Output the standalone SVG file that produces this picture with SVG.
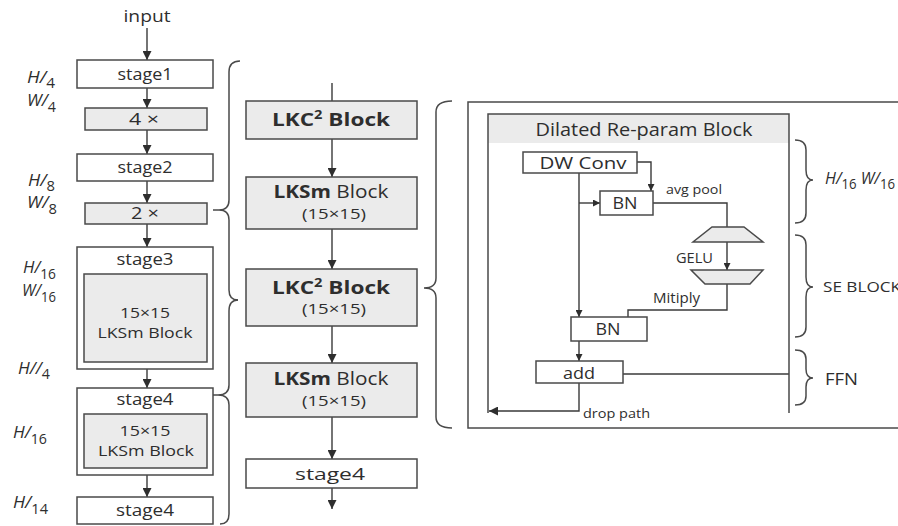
<svg xmlns="http://www.w3.org/2000/svg" width="898" height="526" viewBox="0 0 898 526">
  <style>
    text { font-family: "Open Sans", "DejaVu Sans", sans-serif; fill: #2e2e2e; }
    .box { fill: #ffffff; stroke: #4a4a4a; stroke-width: 1.5; }
    .gbox { fill: #ebebeb; stroke: #4a4a4a; stroke-width: 1.5; }
    .ln { fill: none; stroke: #3a3a3a; stroke-width: 1.4; }
    .br { fill: none; stroke: #4a4a4a; stroke-width: 1.5; }
    .c { text-anchor: middle; }
    .t16 { font-size: 16px; }
    .t15 { font-size: 15px; }
    .t14 { font-size: 14px; }
    .t13 { font-size: 13px; }
    .blk { font-size: 18.5px; font-weight: 700; }
    .frac { font-size: 17px; font-style: italic; }
    .sub { font-size: 14px; font-style: normal; }
  </style>
  <defs>
    <marker id="ah" viewBox="0 0 10 10" refX="10" refY="5" markerWidth="7" markerHeight="7" markerUnits="userSpaceOnUse" orient="auto">
      <path d="M0,0 L10,5 L0,10 z" fill="#2e2e2e"/>
    </marker>
    <marker id="ahs" viewBox="0 0 10 10" refX="10" refY="5" markerWidth="9" markerHeight="9" markerUnits="userSpaceOnUse" orient="auto">
      <path d="M0,0 L10,5 L0,10 z" fill="#2e2e2e"/>
    </marker>
  </defs>
  <rect width="898" height="526" fill="#ffffff"/>

  <!-- connectors -->
  <g id="connectors">
    <!-- left column -->
    <line class="ln" x1="147" y1="28" x2="147" y2="60" marker-end="url(#ahs)"/>
    <line class="ln" x1="147" y1="88" x2="147" y2="108" marker-end="url(#ahs)"/>
    <line class="ln" x1="147" y1="130" x2="147" y2="154" marker-end="url(#ahs)"/>
    <line class="ln" x1="147" y1="181" x2="147" y2="203" marker-end="url(#ahs)"/>
    <line class="ln" x1="147" y1="224" x2="147" y2="247" marker-end="url(#ahs)"/>
    <line class="ln" x1="147" y1="369" x2="147" y2="388" marker-end="url(#ahs)"/>
    <line class="ln" x1="147" y1="475" x2="147" y2="497" marker-end="url(#ahs)"/>
    <!-- middle column -->
    <line class="ln" x1="332" y1="83" x2="332" y2="101"/>
    <line class="ln" x1="332" y1="139" x2="332" y2="177" marker-end="url(#ahs)"/>
    <line class="ln" x1="332" y1="229" x2="332" y2="269" marker-end="url(#ahs)"/>
    <line class="ln" x1="332" y1="326" x2="332" y2="363" marker-end="url(#ahs)"/>
    <line class="ln" x1="332" y1="417" x2="332" y2="459" marker-end="url(#ahs)"/>
    <line class="ln" x1="332" y1="488" x2="332" y2="509" marker-end="url(#ahs)"/>
    <!-- dilated re-param block internals -->
    <polyline class="ln" points="637,162 651,162 651,191" marker-end="url(#ah)"/>
    <line class="ln" x1="579" y1="173" x2="579" y2="317" marker-end="url(#ah)"/>
    <line class="ln" x1="579" y1="203" x2="600" y2="203" marker-end="url(#ah)"/>
    <polyline class="ln" points="653,203 727,203 727,227"/>
    <line class="ln" x1="727" y1="242" x2="727" y2="270" marker-end="url(#ah)"/>
    <polyline class="ln" points="727,284 727,310 628,310 628,317"/>
    <line class="ln" x1="579" y1="341" x2="579" y2="361" marker-end="url(#ah)"/>
    <line class="ln" x1="623" y1="374" x2="789" y2="374"/>
    <polyline class="ln" points="579,383 579,411 489,411" marker-end="url(#ahs)"/>
  </g>

  <!-- braces -->
  <g id="braces">
    <path class="br" d="M240,61 Q229,61 229,72 L229,200 Q229,210 219,210 L213,210 M219,210 Q229,210 229,220 L229,290 Q229,300 238,300"/>
    <path class="br" d="M238,300 Q229,300 229,311 L229,385 Q229,395 218,395 L213,395 M218,395 Q229,395 229,405 L229,514 Q229,524 220,524"/>
    <path class="br" d="M452,101 Q436,101 436,112 L436,278 Q436,288 424,288 Q436,288 436,298 L436,417 Q436,428 452,428"/>
    <path class="br" d="M795,140 Q806,140 806,150 L806,170 Q806,180 813,180 Q806,180 806,190 L806,213 Q806,223 795,223"/>
    <path class="br" d="M795,235 Q806,235 806,245 L806,277 Q806,287 813,287 Q806,287 806,297 L806,327 Q806,337 795,337"/>
    <path class="br" d="M795,350 Q806,350 806,359 L806,369 Q806,378 813,378 Q806,378 806,387 L806,396 Q806,405 795,405"/>
  </g>

  <!-- left column: backbone stages -->
  <text class="t16 c" x="147" y="22" textLength="47" lengthAdjust="spacingAndGlyphs">input</text>
  <g id="stage1">
    <rect class="box" x="77" y="60" width="136" height="28"/>
    <text class="t16 c" x="145" y="80" textLength="55" lengthAdjust="spacingAndGlyphs">stage1</text>
  </g>
  <g id="rep4">
    <rect class="gbox" x="85" y="108" width="122" height="22"/>
    <text class="t16 c" x="144" y="125" textLength="30" lengthAdjust="spacingAndGlyphs">4 ×</text>
  </g>
  <g id="stage2">
    <rect class="box" x="77" y="154" width="136" height="27"/>
    <text class="t16 c" x="145" y="173" textLength="55" lengthAdjust="spacingAndGlyphs">stage2</text>
  </g>
  <g id="rep2">
    <rect class="gbox" x="85" y="203" width="122" height="21"/>
    <text class="t16 c" x="145" y="219" textLength="28" lengthAdjust="spacingAndGlyphs">2 ×</text>
  </g>
  <g id="stage3">
    <rect class="box" x="77" y="247" width="136" height="122"/>
    <text class="t16 c" x="145" y="265" textLength="57" lengthAdjust="spacingAndGlyphs">stage3</text>
    <rect class="gbox" x="84" y="274" width="123" height="88"/>
    <text class="t14 c" x="145" y="318" textLength="50" lengthAdjust="spacingAndGlyphs">15×15</text>
    <text class="t14 c" x="145" y="338" textLength="95" lengthAdjust="spacingAndGlyphs">LKSm Block</text>
  </g>
  <g id="stage4a">
    <rect class="box" x="77" y="388" width="136" height="87"/>
    <text class="t16 c" x="145" y="405" textLength="57" lengthAdjust="spacingAndGlyphs">stage4</text>
    <rect class="gbox" x="84" y="414" width="123" height="54"/>
    <text class="t14 c" x="145" y="436" textLength="51" lengthAdjust="spacingAndGlyphs">15×15</text>
    <text class="t14 c" x="146" y="456" textLength="96" lengthAdjust="spacingAndGlyphs">LKSm Block</text>
  </g>
  <g id="stage4b">
    <rect class="box" x="77" y="497" width="136" height="27"/>
    <text class="t16 c" x="145" y="516" textLength="58" lengthAdjust="spacingAndGlyphs">stage4</text>
  </g>

  <!-- resolution labels -->
  <g id="res-labels">
    <text class="frac" x="27" y="83" textLength="28" lengthAdjust="spacingAndGlyphs">H<tspan>/</tspan><tspan class="sub" dy="5">4</tspan></text>
    <text class="frac" x="27" y="106" textLength="29" lengthAdjust="spacingAndGlyphs">W<tspan>/</tspan><tspan class="sub" dy="6">4</tspan></text>
    <text class="frac" x="28" y="186" textLength="27" lengthAdjust="spacingAndGlyphs">H<tspan>/</tspan><tspan class="sub" dy="5">8</tspan></text>
    <text class="frac" x="27" y="208" textLength="30" lengthAdjust="spacingAndGlyphs">W<tspan>/</tspan><tspan class="sub" dy="6">8</tspan></text>
    <text class="frac" x="23" y="273" textLength="33" lengthAdjust="spacingAndGlyphs">H<tspan>/</tspan><tspan class="sub" dy="6">16</tspan></text>
    <text class="frac" x="22" y="296" textLength="34" lengthAdjust="spacingAndGlyphs">W<tspan>/</tspan><tspan class="sub" dy="6">16</tspan></text>
    <text class="frac" x="18" y="374" textLength="32" lengthAdjust="spacingAndGlyphs">H<tspan>//</tspan><tspan class="sub" dy="5">4</tspan></text>
    <text class="frac" x="13" y="438" textLength="34" lengthAdjust="spacingAndGlyphs">H<tspan>/</tspan><tspan class="sub" dy="6">16</tspan></text>
    <text class="frac" x="13" y="508" textLength="35" lengthAdjust="spacingAndGlyphs">H<tspan>/</tspan><tspan class="sub" dy="6">14</tspan></text>
  </g>

  <!-- middle column: stage expansion -->
  <g id="lkc2-1">
    <rect class="gbox" x="246" y="101" width="171" height="38"/>
    <text class="blk c" x="331" y="126" textLength="118" lengthAdjust="spacingAndGlyphs">LKC<tspan font-size="12" dy="-7">2</tspan><tspan dy="7"> Block</tspan></text>
  </g>
  <g id="lksm-1">
    <rect class="gbox" x="246" y="177" width="171" height="52"/>
    <text class="c" font-size="18" x="331" y="198" textLength="115" lengthAdjust="spacingAndGlyphs"><tspan font-weight="700">LKSm</tspan> Block</text>
    <text class="t14 c" x="334" y="219" textLength="64" lengthAdjust="spacingAndGlyphs">(15×15)</text>
  </g>
  <g id="lkc2-2">
    <rect class="gbox" x="246" y="269" width="171" height="57"/>
    <text class="blk c" x="331" y="294" textLength="118" lengthAdjust="spacingAndGlyphs">LKC<tspan font-size="12" dy="-7">2</tspan><tspan dy="7"> Block</tspan></text>
    <text class="t14 c" x="334" y="314" textLength="64" lengthAdjust="spacingAndGlyphs">(15×15)</text>
  </g>
  <g id="lksm-2">
    <rect class="gbox" x="246" y="363" width="171" height="54"/>
    <text class="c" font-size="18" x="331" y="385" textLength="115" lengthAdjust="spacingAndGlyphs"><tspan font-weight="700">LKSm</tspan> Block</text>
    <text class="t14 c" x="334" y="406" textLength="64" lengthAdjust="spacingAndGlyphs">(15×15)</text>
  </g>
  <g id="stage4-mid">
    <rect class="box" x="246" y="459" width="171" height="29"/>
    <text class="c" font-size="17" x="330" y="480" textLength="70" lengthAdjust="spacingAndGlyphs">stage4</text>
  </g>

  <!-- right panel: dilated re-param block detail -->
  <g id="detail-panel">
    <rect fill="none" stroke="#4a4a4a" stroke-width="1.5" x="468" y="102" width="440" height="326"/>
    <rect fill="#ebebeb" x="488" y="114" width="301" height="29"/>
    <polyline class="br" points="488,413 488,114 789,114 789,413"/>
    <text class="c" font-size="18" x="644" y="136" textLength="217" lengthAdjust="spacingAndGlyphs">Dilated Re-param Block</text>
  </g>
  <g id="dwconv">
    <rect class="box" x="523" y="152" width="114" height="21"/>
    <text class="t16 c" x="583" y="169" textLength="87" lengthAdjust="spacingAndGlyphs">DW Conv</text>
  </g>
  <g id="bn1">
    <rect class="box" x="600" y="191" width="53" height="24"/>
    <text class="t16 c" x="625" y="209" textLength="25" lengthAdjust="spacingAndGlyphs">BN</text>
  </g>
  <text class="t13" x="666" y="194" textLength="56" lengthAdjust="spacingAndGlyphs">avg pool</text>
  <g id="fc-expand">
    <polygon class="gbox" points="712,227 744,227 763,242 693,242" stroke-width="1.2"/>
  </g>
  <text class="t14" x="676" y="263" textLength="37" lengthAdjust="spacingAndGlyphs">GELU</text>
  <g id="fc-reduce">
    <polygon class="gbox" points="691,270 763,270 750,284 705,284" stroke-width="1.2"/>
  </g>
  <text class="t14" x="653" y="303" textLength="47" lengthAdjust="spacingAndGlyphs">Mitiply</text>
  <g id="bn2">
    <rect class="box" x="571" y="317" width="76" height="24"/>
    <text class="t16 c" x="608" y="335" textLength="25" lengthAdjust="spacingAndGlyphs">BN</text>
  </g>
  <g id="add">
    <rect class="box" x="536" y="361" width="87" height="22"/>
    <text class="t16 c" x="579" y="379" textLength="32" lengthAdjust="spacingAndGlyphs">add</text>
  </g>
  <text class="t13" x="583" y="418" textLength="67" lengthAdjust="spacingAndGlyphs">drop path</text>

  <!-- brace labels -->
  <text class="frac" x="825" y="184" textLength="70" lengthAdjust="spacingAndGlyphs">H<tspan>/</tspan><tspan class="sub" dy="5">16</tspan><tspan dy="-5"> W</tspan><tspan>/</tspan><tspan class="sub" dy="5">16</tspan></text>
  <text class="t15" x="823" y="292" textLength="78" lengthAdjust="spacingAndGlyphs">SE BLOCK</text>
  <text class="t16" x="825" y="385" textLength="33" lengthAdjust="spacingAndGlyphs">FFN</text>
</svg>
